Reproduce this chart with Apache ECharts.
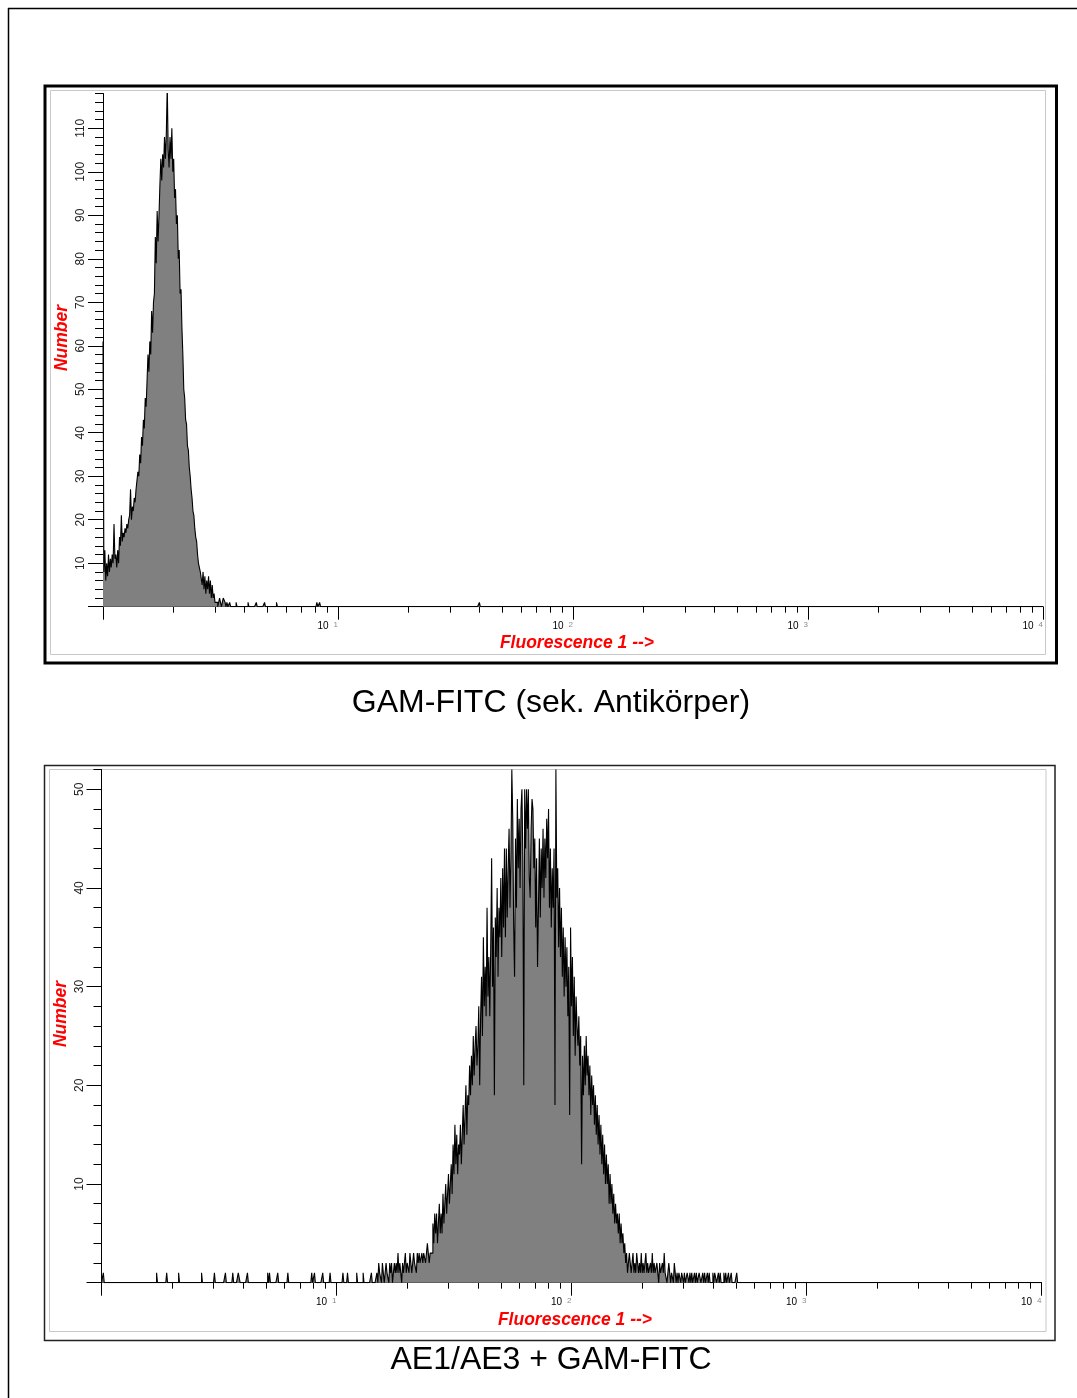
<!DOCTYPE html>
<html><head><meta charset="utf-8">
<script src="https://cdn.jsdelivr.net/npm/echarts@6/dist/echarts.min.js"></script>
<style>html,body{margin:0;padding:0;background:#fff}#c{width:1077px;height:1398px}</style>
</head><body><div id="c"></div>
<script>
// ---------- axis definitions ----------
const N_CHANNELS = 1024;          // 1024 log channels over 4 decades
const N_DECADES = 4;
const decadeTicks = [0, 1, 2, 3, 4];          // exponents of 10
const decadeLabels = [1, 2, 3, 4];            // labelled exponents "10 ^k"
const minorMultipliers = [2, 3, 4, 5, 6, 7, 8, 9];

// ---------- top histogram: GAM-FITC ----------
const topTitle = 'GAM-FITC (sek. Antikörper)';
const topYMax = 118;
const topYTicks = [0, 10, 20, 30, 40, 50, 60, 70, 80, 90, 100, 110];
const topYLabels = [10, 20, 30, 40, 50, 60, 70, 80, 90, 100, 110];
const topStartChannel = 0;
const topCounts = [
  61, 8, 13, 6, 10, 7, 12, 8, 11, 9,
  12, 10, 19, 11, 12, 9, 13, 10, 16, 14,
  21, 15, 17, 16, 18, 17, 19, 18, 20, 21,
  27, 20, 23, 22, 25, 24, 27, 29, 31, 30,
  35, 33, 39, 37, 43, 41, 48, 46, 52, 58,
  54, 61, 58, 68, 63, 70, 72, 85, 79, 91,
  84, 90, 97, 103, 98, 104, 101, 108, 103, 109,
  120, 105, 101, 108, 103, 110, 100, 103, 94, 96,
  88, 90, 80, 82, 72, 73, 64, 58, 50, 48,
  43, 42, 37, 36, 32, 30, 27, 25, 22, 21,
  18, 16, 15, 12, 10, 9, 8, 8, 5, 8,
  4, 7, 3, 6, 4, 7, 3, 6, 2, 5,
  2, 3, 1, 1, 1, 0, 1, 2, 1, 0,
  1, 2, 2, 1, 0, 1
];
const topSparseChannels = [138, 145, 158, 167, 176, 189, 233, 236, 410];
const topSparseCounts   = [1, 1, 1, 1, 1, 1, 1, 1, 1];

// ---------- bottom histogram: AE1/AE3 + GAM-FITC ----------
const bottomTitle = 'AE1/AE3 + GAM-FITC';
const bottomYMax = 52;
const bottomYTicks = [0, 10, 20, 30, 40, 50];
const bottomYLabels = [10, 20, 30, 40, 50];
const bottomStartChannel = 300;
const bottomCounts = [
  1, 0, 2, 1, 1, 0, 2, 1, 0, 1,
  2, 1, 1, 0, 2, 1, 2, 0, 1, 2,
  1, 2, 1, 3, 1, 2, 1, 0, 2, 1,
  2, 3, 1, 2, 2, 1, 3, 2, 1, 2,
  3, 2, 2, 1, 3, 2, 3, 2, 2, 3,
  2, 3, 3, 2, 3, 4, 3, 2, 3, 3,
  3, 6, 4, 7, 5, 7, 4, 6, 8, 5,
  7, 5, 9, 6, 8, 10, 7, 9, 11, 8,
  10, 12, 9, 14, 11, 16, 12, 15, 11, 14,
  13, 16, 12, 15, 18, 14, 17, 20, 15, 19,
  18, 22, 19, 23, 20, 25, 21, 24, 26, 22,
  24, 28, 20, 27, 31, 25, 35, 28, 32, 27,
  38, 29, 33, 27, 34, 43, 30, 36, 19, 37,
  33, 40, 31, 38, 35, 41, 33, 42, 36, 44,
  35, 44, 37, 42, 46, 38, 43, 52, 47, 36,
  31, 45, 38, 49, 42, 47, 40, 48, 50, 43,
  20, 50, 44, 50, 46, 50, 41, 39, 46, 49,
  48, 42, 45, 36, 43, 32, 38, 45, 37, 44,
  40, 46, 39, 45, 41, 47, 43, 48, 38, 44,
  36, 42, 38, 44, 18, 52, 39, 42, 34, 40,
  33, 38, 31, 36, 29, 35, 30, 34, 27, 32,
  17, 36, 28, 33, 25, 31, 23, 29, 26, 24,
  27, 22, 25, 12, 23, 19, 24, 20, 25, 21,
  23, 19, 22, 17, 21, 18, 20, 16, 19, 15,
  18, 14, 17, 13, 16, 12, 15, 11, 14, 10,
  13, 10, 12, 8, 11, 8, 10, 7, 9, 6,
  8, 6, 7, 5, 7, 4, 6, 4, 5, 3,
  4, 2, 3, 1, 2, 3, 2, 1, 2, 3,
  1, 2, 1, 3, 2, 1, 2, 1, 3, 1,
  2, 1, 2, 3, 1, 2, 1, 1, 2, 1,
  3, 1, 2, 1, 1, 2, 1, 0, 2, 1,
  1, 2, 1, 3, 1, 1, 0, 1, 2, 1,
  0, 1, 1, 0, 2, 1, 0, 1, 0, 1,
  1, 0, 1, 1, 0, 1, 0, 0, 1, 1,
  0, 1, 0, 1, 0, 0, 1, 0, 1, 0,
  0, 1, 1, 0, 0, 1, 0, 1, 0, 0,
  1, 0, 1, 0, 0, 0, 1, 0, 1, 1,
  0, 0, 1, 0, 1, 0, 0, 0, 1, 0,
  1, 0, 0, 1, 0, 0, 1, 0, 0, 0,
  0, 0, 1, 0, 0, 0, 0, 0, 0, 0
];
const bottomSparseChannels = [2, 60, 71, 84, 109, 123, 135, 143, 149, 150, 159, 181, 183, 192, 203, 229, 232, 241, 249, 263, 268, 278, 285, 294];
const bottomSparseCounts   = [1, 1, 1, 1, 1, 1, 1, 1, 1, 1, 1, 1, 1, 1, 1, 1, 1, 1, 1, 1, 1, 1, 1, 1];

const yLabelText = 'Number';
const xLabelText = 'Fluorescence 1 -->';

// ---------- build ----------
function buildHist(start, counts, sparseCh, sparseCnt) {
  const arr = new Array(N_CHANNELS).fill(0);
  counts.forEach((c, i) => { arr[start + i] = c; });
  sparseCh.forEach((ch, i) => { arr[ch] = sparseCnt[i]; });
  return arr.map((c, i) => [i * N_DECADES / N_CHANNELS, c]);
}
const minorXValues = [];
for (let d = 0; d < N_DECADES; d++) minorMultipliers.forEach(k => minorXValues.push(d + Math.log10(k)));
function evens(max) { const a = []; for (let v = 0; v <= max; v += 2) a.push(v); return a; }

const FONT = 'Liberation Sans, Arial, sans-serif';

function xAxes(gridIndex) {
  return [{
    type: 'value', gridIndex, position: 'bottom', min: 0, max: N_DECADES,
    axisLine: { show: true, onZero: false, lineStyle: { color: '#000', width: 1 } },
    axisTick: { show: true, length: 13, customValues: decadeTicks, lineStyle: { color: '#000', width: 1 } },
    axisLabel: {
      show: true, customValues: decadeLabels, margin: 14, align: 'right',
      formatter: v => '{a|10}{s|' + v + '}',
      rich: {
        a: { fontSize: 10, color: '#000', fontFamily: FONT, lineHeight: 11 },
        s: { fontSize: 8, color: '#8c8c8c', fontFamily: FONT, verticalAlign: 'top', padding: [0, 0, 0, 5], lineHeight: 11 }
      }
    },
    splitLine: { show: false }
  }, {
    type: 'value', gridIndex, position: 'bottom', min: 0, max: N_DECADES,
    axisLine: { show: false },
    axisTick: { show: true, length: 6, customValues: minorXValues, lineStyle: { color: '#000', width: 1 } },
    axisLabel: { show: false },
    splitLine: { show: false }
  }];
}
function yAxes(gridIndex, max, ticks, labels) {
  return [{
    type: 'value', gridIndex, position: 'left', min: 0, max,
    axisLine: { show: true, onZero: false, lineStyle: { color: '#000', width: 1 } },
    axisTick: { show: true, length: 15, customValues: ticks, lineStyle: { color: '#000', width: 1 } },
    axisLabel: { show: true, customValues: labels, rotate: 90, margin: 16, fontSize: 12, color: '#222', fontFamily: FONT },
    splitLine: { show: false }
  }, {
    type: 'value', gridIndex, position: 'left', min: 0, max,
    axisLine: { show: false },
    axisTick: { show: true, length: 8, customValues: evens(max), lineStyle: { color: '#000', width: 1 } },
    axisLabel: { show: false },
    splitLine: { show: false }
  }];
}
function histSeries(xi, yi, data) {
  return {
    type: 'line', xAxisIndex: xi, yAxisIndex: yi, data, step: 'end', symbol: 'none',
    lineStyle: { color: '#000', width: 1.1 }, areaStyle: { color: '#808080', opacity: 1 },
    clip: true, silent: true, animation: false
  };
}
function txt(x, y, text, size, opts) {
  return {
    type: 'text', x, y, rotation: (opts && opts.rot) || 0,
    style: Object.assign({ text, fontSize: size, fontFamily: FONT, fill: '#000', align: 'center', verticalAlign: 'middle' }, (opts && opts.style) || {})
  };
}
const redStyle = { fill: '#ff0000', fontWeight: 'bold', fontStyle: 'italic' };

const chart = echarts.init(document.getElementById('c'), null, { renderer: 'canvas' });
chart.setOption({
  backgroundColor: '#fff',
  animation: false,
  grid: [
    { left: 103, top: 93.5, width: 940, height: 513.2 },
    { left: 101.5, top: 769.5, width: 940, height: 513.2 }
  ],
  xAxis: [...xAxes(0), ...xAxes(1)],
  yAxis: [...yAxes(0, topYMax, topYTicks, topYLabels), ...yAxes(1, bottomYMax, bottomYTicks, bottomYLabels)],
  series: [
    histSeries(0, 0, buildHist(topStartChannel, topCounts, topSparseChannels, topSparseCounts)),
    histSeries(2, 2, buildHist(bottomStartChannel, bottomCounts, bottomSparseChannels, bottomSparseCounts))
  ],
  graphic: [
    { type: 'line', shape: { x1: 8, y1: 8.5, x2: 1077, y2: 8.5 }, style: { stroke: '#000', lineWidth: 1.5 } },
    { type: 'line', shape: { x1: 8.5, y1: 8, x2: 8.5, y2: 1398 }, style: { stroke: '#000', lineWidth: 1.5 } },
    { type: 'rect', shape: { x: 45, y: 86, width: 1011.5, height: 577 }, style: { fill: 'none', stroke: '#000', lineWidth: 3 } },
    { type: 'rect', shape: { x: 50.5, y: 90.5, width: 995, height: 564 }, style: { fill: 'none', stroke: '#c8c8c8', lineWidth: 1 } },
    { type: 'rect', shape: { x: 44.5, y: 765.5, width: 1010.5, height: 575 }, style: { fill: 'none', stroke: '#222', lineWidth: 1.5 } },
    { type: 'rect', shape: { x: 49.5, y: 769.5, width: 996.5, height: 562 }, style: { fill: 'none', stroke: '#c8c8c8', lineWidth: 1 } },
    txt(62, 338, yLabelText, 17.5, { rot: Math.PI / 2, style: redStyle }),
    txt(61, 1014, yLabelText, 17.5, { rot: Math.PI / 2, style: redStyle }),
    txt(577, 643, xLabelText, 17.5, { style: redStyle }),
    txt(575, 1320, xLabelText, 17.5, { style: redStyle }),
    txt(551, 703, topTitle, 32),
    txt(551, 1360, bottomTitle, 32)
  ]
});
</script></body></html>
